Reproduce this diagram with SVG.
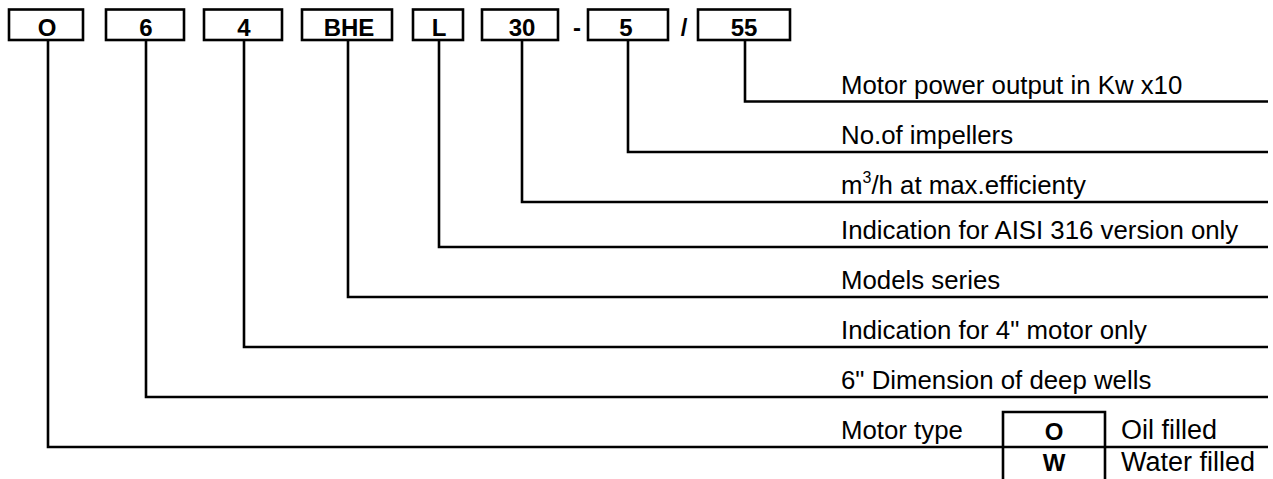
<svg xmlns="http://www.w3.org/2000/svg" width="1273" height="479" viewBox="0 0 1273 479">
<style>
.box{fill:#fff;stroke:#000;stroke-width:2.6}
.lbl{font-family:"Liberation Sans",Arial,sans-serif;font-weight:bold;font-size:24px;text-anchor:middle;fill:#000}
.txt{font-family:"Liberation Sans",Arial,sans-serif;font-size:25.8px;fill:#000}
.tt{font-family:"Liberation Sans",Arial,sans-serif;font-size:27px;fill:#000}
.tb{font-family:"Liberation Sans",Arial,sans-serif;font-weight:bold;font-size:24px;text-anchor:middle;fill:#000}
.con{fill:none;stroke:#000;stroke-width:2.6}
</style>
<rect width="1273" height="479" fill="#fff"/>
<g id="connectors">
<polyline class="con" points="48,40 48,447 1268,447"/>
<polyline class="con" points="146,40 146,397 1268,397"/>
<polyline class="con" points="244,40 244,347 1268,347"/>
<polyline class="con" points="348,40 348,297 1268,297"/>
<polyline class="con" points="439,40 439,247 1268,247"/>
<polyline class="con" points="522,40 522,202 1268,202"/>
<polyline class="con" points="628,40 628,152 1268,152"/>
<polyline class="con" points="745,40 745,101.5 1268,101.5"/>
</g>
<g id="node-O"><rect class="box" x="9" y="9.5" width="74" height="30.5"/><text class="lbl" x="47" y="35.5">O</text></g>
<g id="node-6"><rect class="box" x="106" y="9.5" width="78" height="30.5"/><text class="lbl" x="146" y="35.5">6</text></g>
<g id="node-4"><rect class="box" x="204" y="9.5" width="78" height="30.5"/><text class="lbl" x="244" y="35.5">4</text></g>
<g id="node-BHE"><rect class="box" x="302" y="9.5" width="90" height="30.5"/><text class="lbl" x="349" y="35.5">BHE</text></g>
<g id="node-L"><rect class="box" x="413" y="9.5" width="50" height="30.5"/><text class="lbl" x="439" y="35.5">L</text></g>
<g id="node-30"><rect class="box" x="482" y="9.5" width="76" height="30.5"/><text class="lbl" x="522" y="35.5">30</text></g>
<text class="lbl" x="577" y="35.5">-</text>
<g id="node-5"><rect class="box" x="588" y="9.5" width="80" height="30.5"/><text class="lbl" x="626" y="35.5">5</text></g>
<text class="lbl" x="684" y="35.5">/</text>
<g id="node-55"><rect class="box" x="698" y="9.5" width="92" height="30.5"/><text class="lbl" x="744" y="35.5">55</text></g>
<g id="labels">
<text class="txt" x="841" y="94">Motor power output in Kw x10</text>
<text class="txt" x="841" y="144">No.of impellers</text>
<text class="txt" x="841" y="194">m<tspan font-size="16" dy="-11">3</tspan><tspan dy="11">/h at max.efficienty</tspan></text>
<text class="txt" x="841" y="239">Indication for AISI 316 version only</text>
<text class="txt" x="841" y="289">Models series</text>
<text class="txt" x="841" y="339">Indication for 4" motor only</text>
<text class="txt" x="841" y="389">6" Dimension of deep wells</text>
<text class="txt" x="841" y="439">Motor type</text>
</g>
<g id="motor-table">
<polyline class="con" points="1003,481 1003,412 1105,412 1105,481"/>
<text class="tb" x="1054" y="440">O</text>
<text class="tb" x="1054" y="471">W</text>
<text class="tt" x="1121" y="439">Oil filled</text>
<text class="tt" x="1121" y="471">Water filled</text>
</g>
</svg>
